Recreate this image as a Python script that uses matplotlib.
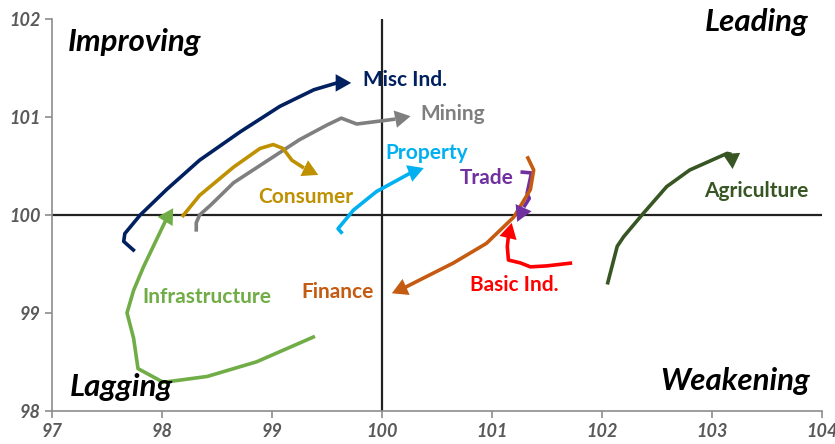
import matplotlib.pyplot as plt

plt.rcParams['font.family'] = ['Lato', 'DejaVu Sans']

# sector trails (x = relative strength, y = momentum), oldest point first,
# the last point is the arrow tip
misc_x = [97.75, 97.65, 97.66, 97.80, 98.04, 98.34, 98.71, 99.07, 99.38, 99.59, 99.72]
misc_y = [99.63, 99.73, 99.81, 100.00, 100.26, 100.56, 100.85, 101.11, 101.28, 101.35, 101.35]

mining_x = [98.31, 98.31, 98.34, 98.44, 98.65, 98.95, 99.25, 99.50, 99.63, 99.77, 99.98, 100.12, 100.26]
mining_y = [99.83, 99.92, 100.00, 100.10, 100.33, 100.55, 100.77, 100.92, 100.99, 100.93, 100.96, 100.98, 101.01]

consumer_x = [98.18, 98.34, 98.65, 98.89, 99.01, 99.10, 99.18, 99.29, 99.42]
consumer_y = [99.98, 100.20, 100.49, 100.68, 100.72, 100.68, 100.56, 100.48, 100.41]

property_x = [99.64, 99.60, 99.74, 99.95, 100.26, 100.38]
property_y = [99.81, 99.86, 100.05, 100.24, 100.43, 100.48]

trade_x = [101.26, 101.36, 101.32, 101.34, 101.29, 101.23]
trade_y = [100.44, 100.43, 100.22, 100.17, 100.08, 99.93]

finance_x = [101.32, 101.38, 101.35, 101.20, 100.95, 100.65, 100.35, 100.21, 100.09]
finance_y = [100.60, 100.46, 100.26, 99.98, 99.71, 99.51, 99.34, 99.26, 99.20]

basic_x = [101.73, 101.50, 101.35, 101.26, 101.15, 101.14, 101.15, 101.18]
basic_y = [99.51, 99.48, 99.47, 99.51, 99.54, 99.68, 99.78, 99.92]

agri_x = [102.05, 102.14, 102.20, 102.38, 102.59, 102.80, 102.98, 103.14, 103.18, 103.19]
agri_y = [99.29, 99.68, 99.78, 100.02, 100.29, 100.46, 100.55, 100.63, 100.62, 100.47]

infra_x = [99.39, 98.86, 98.41, 98.01, 97.78, 97.74, 97.68, 97.74, 97.83, 98.03, 98.10]
infra_y = [98.76, 98.50, 98.35, 98.29, 98.43, 98.74, 99.00, 99.23, 99.47, 99.94, 100.07]

# label text, colour, label anchor (left edge, vertical centre)
sectors = [
    ("Misc Ind.", "#002060", misc_x, misc_y, 99.83, 101.38),
    ("Mining", "#7F7F7F", mining_x, mining_y, 100.35, 101.03),
    ("Consumer", "#BF9000", consumer_x, consumer_y, 98.87, 100.18),
    ("Property", "#00B0F0", property_x, property_y, 100.03, 100.63),
    ("Trade", "#7030A0", trade_x, trade_y, 100.71, 100.38),
    ("Finance", "#C55A11", finance_x, finance_y, 99.27, 99.21),
    ("Basic Ind.", "#FF0000", basic_x, basic_y, 100.80, 99.28),
    ("Agriculture", "#375623", agri_x, agri_y, 102.93, 100.245),
    ("Infrastructure", "#70AD47", infra_x, infra_y, 97.82, 99.16),
]

fig = plt.figure(figsize=(8.35, 4.44), dpi=100)
ax = fig.add_axes([0.0626, 0.075, 0.9214, 0.8815])
ax.set_xlim(97, 104)
ax.set_ylim(98, 102)

# centre cross
ax.axhline(100, color="#222222", lw=1.6, zorder=1)
ax.axvline(100, color="#222222", lw=1.6, zorder=1)

for name, c, xs, ys, lx, ly in sectors:
    ax.plot(xs[:-1], ys[:-1], color=c, lw=2.6, solid_joinstyle="round",
            solid_capstyle="butt", zorder=3)
    # arrow head only, pointing along the last segment
    bx = xs[-1] - 3 * (xs[-1] - xs[-2])
    by = ys[-1] - 3 * (ys[-1] - ys[-2])
    ax.annotate("", xy=(xs[-1], ys[-1]), xytext=(bx, by),
                arrowprops=dict(arrowstyle="-|>,head_length=0.8,head_width=0.45",
                                color=c, lw=0, shrinkA=0, shrinkB=0,
                                mutation_scale=14), zorder=4)
    ax.text(lx, ly, name, color=c, fontsize=15, fontweight="bold",
            ha="left", va="center", zorder=5)

quad = dict(fontsize=22.5, fontweight="bold", fontstyle="italic", color="black")
ax.text(97.14, 101.77, "Improving", ha="left", va="center", **quad)
ax.text(103.88, 101.97, "Leading", ha="right", va="center", **quad)
ax.text(97.16, 98.24, "Lagging", ha="left", va="center", **quad)
ax.text(103.89, 98.30, "Weakening", ha="right", va="center", **quad)

ax.set_xticks(range(97, 105))
ax.set_yticks(range(98, 103))
for s in ["top", "right"]:
    ax.spines[s].set_visible(False)
for s in ["left", "bottom"]:
    ax.spines[s].set_color("#8c8c8c")
    ax.spines[s].set_linewidth(1.2)
ax.tick_params(colors="#8c8c8c", length=5, width=1.2, labelcolor="#595959")
for lab in ax.get_xticklabels() + ax.get_yticklabels():
    lab.set_fontweight("bold")
    lab.set_fontstyle("italic")
    lab.set_fontsize(13)

fig.savefig("out.png", dpi=100)
